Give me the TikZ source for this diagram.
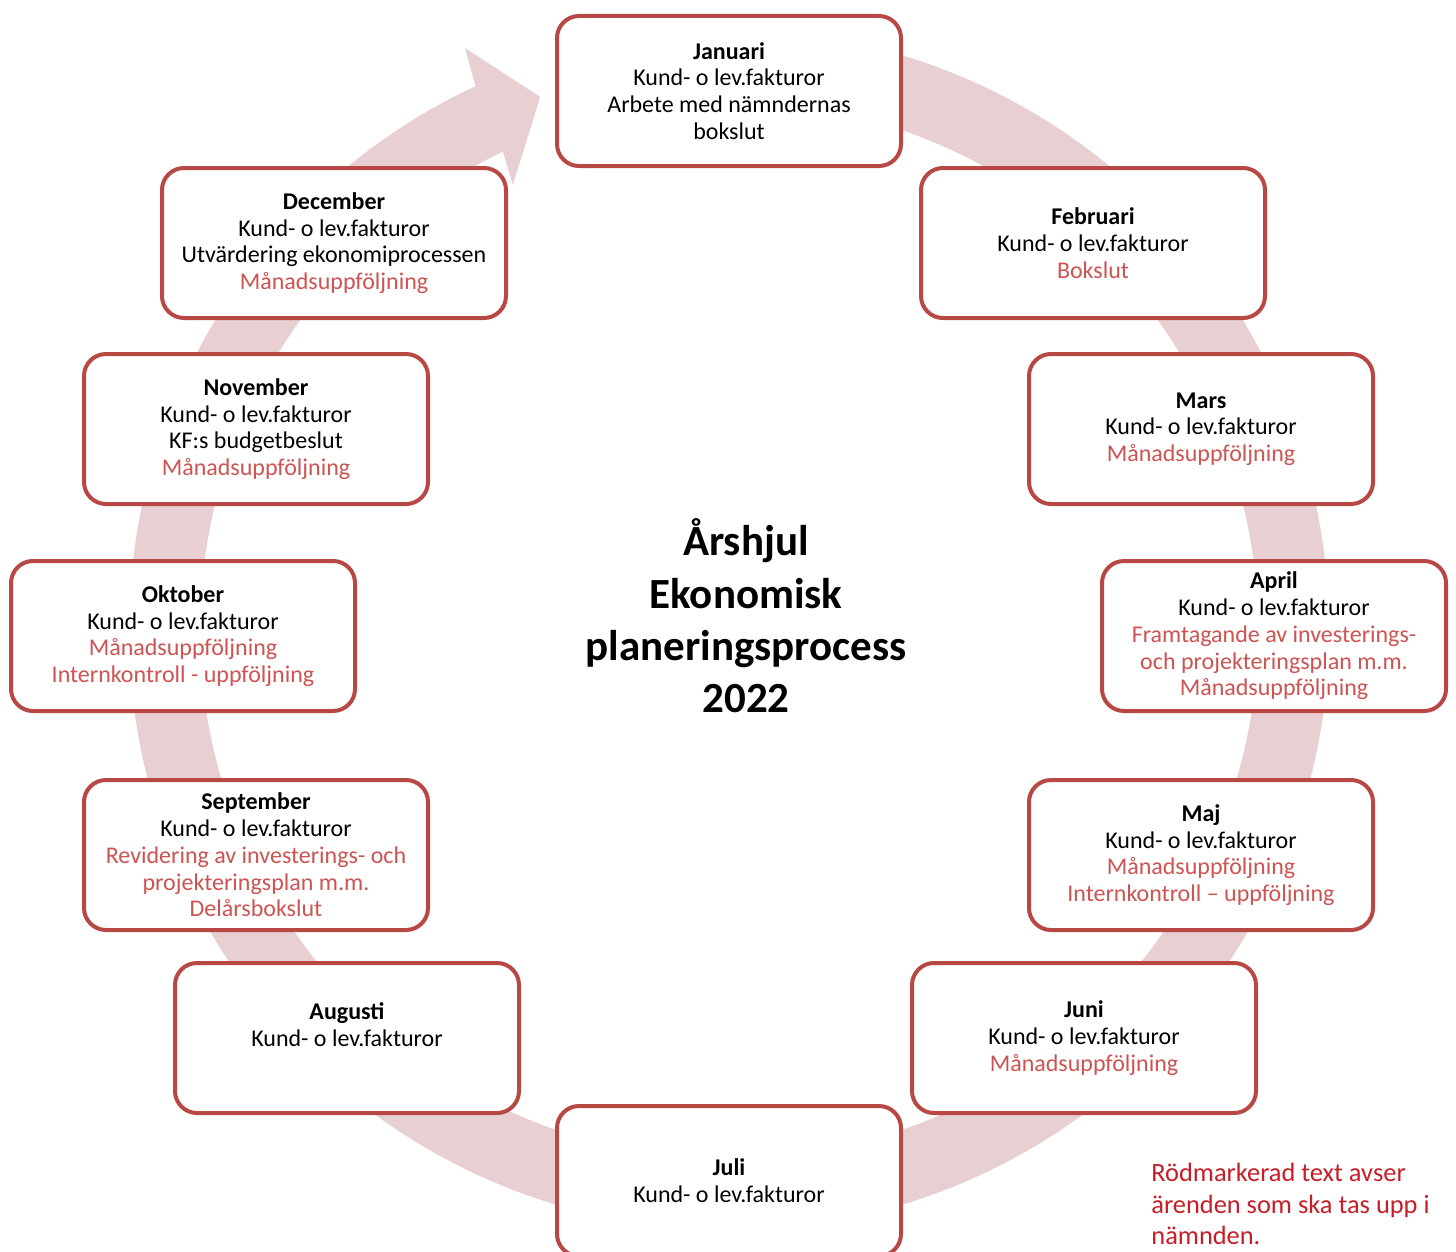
\documentclass[tikz,border=0pt]{standalone}
\usepackage{fontspec}
\setmainfont{Carlito}
\usetikzlibrary{calc}
\definecolor{ringc}{RGB}{232,207,209}
\definecolor{boxborder}{RGB}{184,72,68}
\definecolor{redtxt}{RGB}{204,84,82}
\definecolor{notered}{RGB}{198,30,40}
\newcommand{\redl}[1]{\textcolor{redtxt}{#1}}
\begin{document}
\begin{tikzpicture}[x=0.5pt,y=0.5pt,
  monthbox/.style={draw=boxborder, line width=2pt, fill=white, rounded corners=11pt,
    minimum width=172pt, minimum height=75pt, align=center, inner sep=0pt,
    font=\fontsize{12}{13.35}\selectfont},
  titletext/.style={align=center, inner sep=0pt, font=\fontsize{21.5}{26.15}\selectfont\bfseries},
  notetext/.style={align=left, inner sep=0pt, text=notered, font=\fontsize{13.2}{15.8}\selectfont}]
\path[use as bounding box, clip] (0,0) rectangle (1456,-1252);
\fill[white] (0,0) rectangle (1456,-1252);
\coordinate (C) at (729,-630);
% ring with arrow head
\fill[ringc] ($(C)+(90:600)$) arc[start angle=90, end angle=-245, radius=600]
  -- ($(C)+(114.4:639)$) -- ($(C)+(109.5:565.5)$) -- ($(C)+(115.9:495)$)
  -- ($(C)+(115.3:529)$) arc[start angle=-244.7, end angle=90, radius=529] -- cycle;
% month boxes
\node[monthbox] (jan) at (729,-91) {\textbf{Januari}\\Kund- o lev.fakturor\\Arbete med nämndernas\\bokslut};
\node[monthbox] (feb) at (1093,-243) {\textbf{Februari}\\Kund- o lev.fakturor\\\redl{Bokslut}};
\node[monthbox] (mar) at (1201,-429) {\textbf{Mars}\\Kund- o lev.fakturor\\\redl{Månadsuppföljning}};
\node[monthbox] (apr) at (1274,-636) {\textbf{April}\\Kund- o lev.fakturor\\\redl{Framtagande av investerings-}\\\redl{och projekteringsplan m.m.}\\\redl{Månadsuppföljning}};
\node[monthbox] (maj) at (1201,-855) {\textbf{Maj}\\Kund- o lev.fakturor\\\redl{Månadsuppföljning}\\\redl{Internkontroll – uppföljning}};
\node[monthbox] (jun) at (1084,-1038) {\textbf{Juni}\\Kund- o lev.fakturor\\\redl{Månadsuppföljning}};
\node[monthbox] (jul) at (729,-1181) {\textbf{Juli}\\Kund- o lev.fakturor};
\node[monthbox] (aug) at (347,-1038) {\textbf{Augusti}\\Kund- o lev.fakturor\\\mbox{}};
\node[monthbox] (sep) at (256,-855) {\textbf{September}\\Kund- o lev.fakturor\\\redl{Revidering av investerings- och}\\\redl{projekteringsplan m.m.}\\\redl{Delårsbokslut}};
\node[monthbox] (okt) at (183,-636) {\textbf{Oktober}\\Kund- o lev.fakturor\\\redl{Månadsuppföljning}\\\redl{Internkontroll - uppföljning}};
\node[monthbox] (nov) at (256,-429) {\textbf{November}\\Kund- o lev.fakturor\\KF:s budgetbeslut\\\redl{Månadsuppföljning}};
\node[monthbox] (dec) at (334,-243) {\textbf{December}\\Kund- o lev.fakturor\\Utvärdering ekonomiprocessen\\\redl{Månadsuppföljning}};
% title
\node[titletext] (title) at (746,-616) {Årshjul\\Ekonomisk\\planeringsprocess\\2022};
% note
\node[notetext, anchor=north west] (note) at (1151,-1163) {Rödmarkerad text avser\\ärenden som ska tas upp i\\nämnden.};
\end{tikzpicture}
\end{document}
